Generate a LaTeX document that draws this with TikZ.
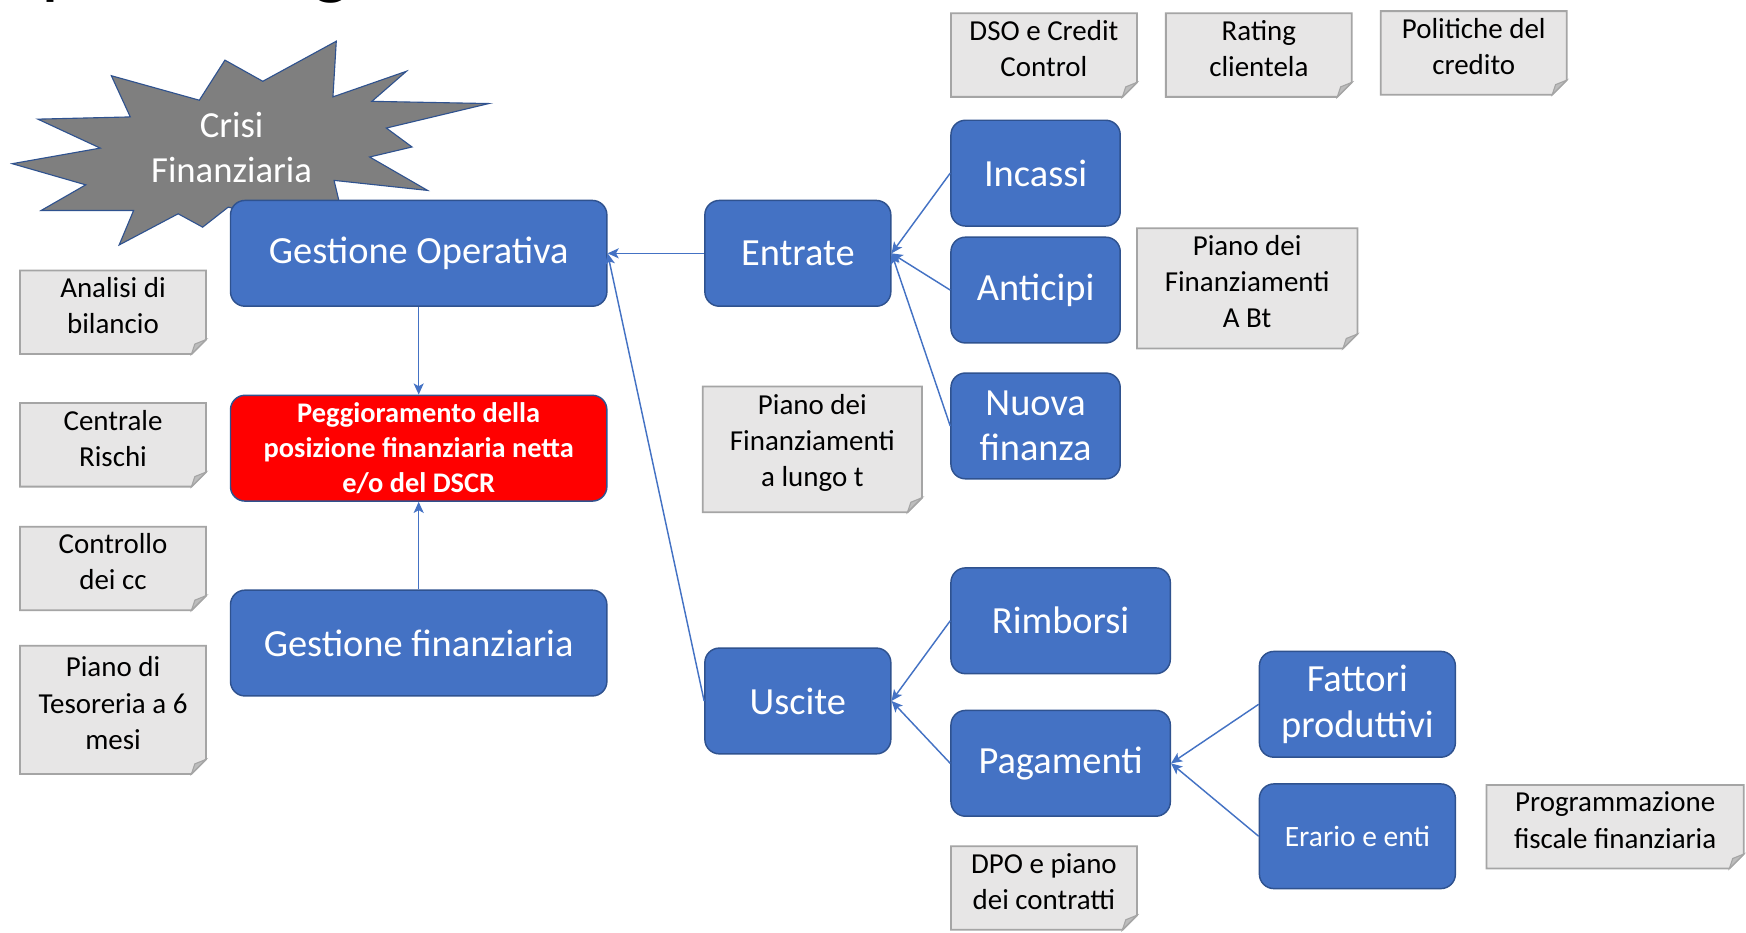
\documentclass[tikz,border=0pt]{standalone}
\usepackage{fontspec}
\setmainfont{Carlito}
\usetikzlibrary{arrows.meta,backgrounds}
\definecolor{bluefill}{HTML}{4472C4}
\definecolor{blueline}{HTML}{2F528F}
\definecolor{notefill}{HTML}{E7E6E6}
\definecolor{noteline}{HTML}{A5A5A5}
\definecolor{foldfill}{HTML}{BDBDBD}
\definecolor{stargray}{HTML}{7F7F7F}
\definecolor{redfill}{HTML}{FF0000}
\tikzset{
  bluebox/.style={draw=blueline, line width=1.3pt, fill=bluefill, rounded corners=13pt,
    text=white, font=\fontsize{34.5}{41}\selectfont, align=center, inner sep=0pt},
  redbox/.style={bluebox, fill=redfill, font=\bfseries\fontsize{25.5}{31.5}\selectfont},
  notetext/.style={inner sep=0pt, align=center, font=\fontsize{26}{32.5}\selectfont, text=black},
  noteshape/.style={fill=notefill, draw=noteline, line width=1.6pt},
  foldshape/.style={fill=foldfill, draw=noteline, line width=1pt},
  conn/.style={draw=bluefill, line width=1.3pt, -{Stealth[length=10pt,width=9pt,inset=2.5pt]}},
  titlefont/.style={inner sep=0pt, font=\fontsize{72}{80}\selectfont, text=black},
}
% name, x1, y1, x2, y2, text
\newcommand\mynote[6]{%
  \path[noteshape] (#2,#3) -- (#4,#3) -- (#4,#5-13) -- (#4-13,#5) -- (#2,#5) -- cycle;
  \path[foldshape] (#4,#5-13) -- (#4-13,#5) -- (#4-10,#5-9) -- cycle;
  \node[notetext] (#1) at ({(#2+#4)/2},{(#3+#5)/2-6}) {#6};
}
\begin{document}
\begin{tikzpicture}[x=1pt,y=-1pt]
\begin{pgfonlayer}{background}
\fill[white] (0,0) rectangle (1568,837);
\end{pgfonlayer}
\useasboundingbox (0,0) rectangle (1568,837);

% title fragments cut by the top edge
\node[titlefont, anchor=base west] (titp) at (37,-9) {p};
\node[titlefont, anchor=base west] (titg) at (280,-9) {g};

% star
\draw[fill=stargray, draw=blueline, line width=1pt]
  (302,37) -- (299,87) -- (365,64) -- (334,91) -- (439,93) -- (347,115) -- (370,132)
  -- (332,141) -- (384,171) -- (300,162) -- (305,183) -- (240,195) -- (205,186)
  -- (182,204) -- (160,192) -- (107,220) -- (120,189) -- (37,189) -- (77,166)
  -- (11,147) -- (90,133) -- (34,107) -- (117,105) -- (100,68) -- (179,90)
  -- (202,54) -- (236,73) -- cycle;
\node[text=white, align=center, inner sep=0pt, font=\fontsize{33}{41}\selectfont]
  (crisi) at (208,132.5) {Crisi\\Finanziaria};

% blue boxes
\node[bluebox, minimum width=338pt, minimum height=95pt] (go) at (376,227.5) {Gestione Operativa};
\node[redbox, minimum width=338pt, minimum height=95pt] (peg) at (376,402.5)
  {Peggioramento della\\posizione finanziaria netta\\e/o del DSCR};
\node[bluebox, minimum width=338pt, minimum height=95pt] (gf) at (376,577.5) {Gestione finanziaria};
\node[bluebox, minimum width=167pt, minimum height=95pt] (ent) at (716.5,227.5) {Entrate};
\node[bluebox, minimum width=167pt, minimum height=95pt] (usc) at (716.5,629.5) {Uscite};
\node[bluebox, minimum width=152pt, minimum height=95pt] (inc) at (930,155.5) {Incassi};
\node[bluebox, minimum width=152pt, minimum height=95pt] (ant) at (930,260.5) {Anticipi};
\node[bluebox, minimum width=152pt, minimum height=95pt] (nuo) at (930,382.5) {Nuova\\finanza};
\node[bluebox, minimum width=197pt, minimum height=95pt] (rim) at (952.5,557.5) {Rimborsi};
\node[bluebox, minimum width=197pt, minimum height=95pt] (pag) at (952.5,685.5) {Pagamenti};
\node[bluebox, minimum width=176pt, minimum height=95pt] (fat) at (1219,632.5) {Fattori\\produttivi};
\node[bluebox, minimum width=176pt, minimum height=94pt, font=\fontsize{26.5}{32}\selectfont]
  (era) at (1219,751) {Erario e enti};

% notes
\mynote{nab}{18}{243}{185}{318}{Analisi di\\bilancio}
\mynote{ncr}{18}{362}{185}{437}{Centrale\\Rischi}
\mynote{ncc}{18}{473}{185}{548}{Controllo\\dei cc}
\mynote{npt}{18}{580}{185}{695}{Piano di\\Tesoreria a 6\\mesi}
\mynote{ndso}{854}{12}{1021}{87}{DSO e Credit\\Control}
\mynote{nrat}{1047}{12}{1214}{87}{Rating\\clientela}
\mynote{npol}{1240}{10}{1407}{85}{Politiche del\\credito}
\mynote{nbt}{1021}{205}{1219}{313}{Piano dei\\Finanziamenti\\A Bt}
\mynote{nlt}{631}{347}{828}{460}{Piano dei\\Finanziamenti\\a lungo t}
\mynote{npf}{1335}{705}{1566}{780}{Programmazione\\fiscale finanziaria}
\mynote{ndpo}{854}{760}{1021}{835}{DPO e piano\\dei contratti}

% connectors
\draw[conn] (ent.west) -- (go.east);
\draw[conn] (usc.west) -- (go.east);
\draw[conn] (go.south) -- (peg.north);
\draw[conn] (gf.north) -- (peg.south);
\draw[conn] (inc.west) -- (ent.east);
\draw[conn] (ant.west) -- (ent.east);
\draw[conn] (nuo.west) -- (ent.east);
\draw[conn] (rim.west) -- (usc.east);
\draw[conn] (pag.west) -- (usc.east);
\draw[conn] (fat.west) -- (pag.east);
\draw[conn] (era.west) -- (pag.east);
\end{tikzpicture}
\end{document}
